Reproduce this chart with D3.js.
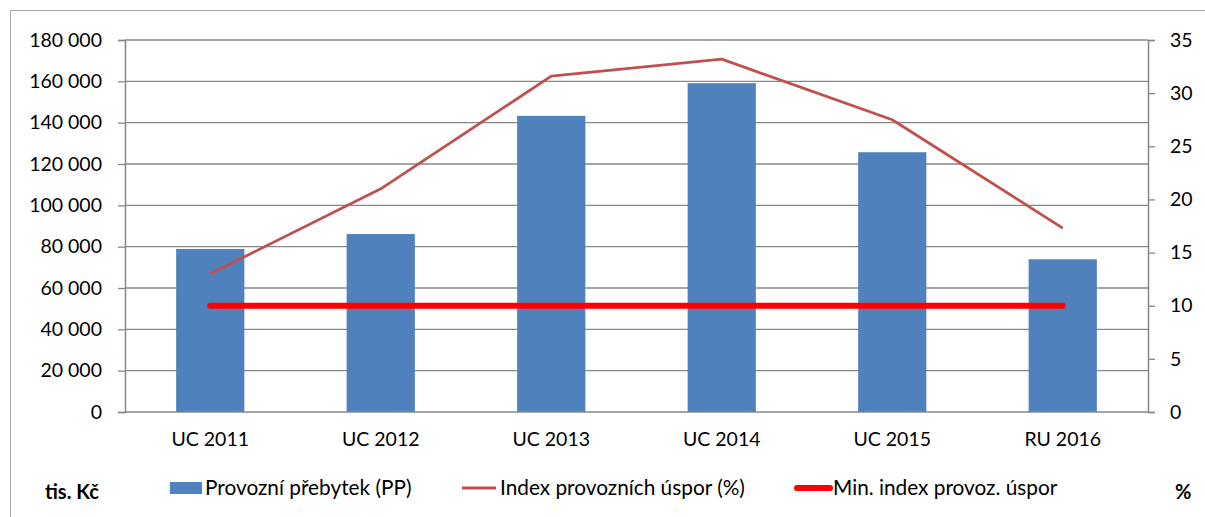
<!DOCTYPE html>
<html>
<head>
<meta charset="utf-8">
<script src="https://cdn.jsdelivr.net/npm/d3@7"></script>
<style>
    body { margin: 0; background: #fff; }
    svg text { font-family: Lato, "Liberation Sans", sans-serif; fill: #000; }
</style>
</head>
<body>
<div id="chart"></div>
<script>
// chart data
const categories = ['UC 2011', 'UC 2012', 'UC 2013', 'UC 2014', 'UC 2015', 'RU 2016'];
const surplus = [78900, 86100, 143300, 159100, 125700, 73900];
const savingsIndex = [13.0, 21.0, 31.6, 33.2, 27.5, 17.3];
const minIndex = [10, 10, 10, 10, 10, 10];
const leftTicks = [0, 20000, 40000, 60000, 80000, 100000, 120000, 140000, 160000, 180000];
const rightTicks = [0, 5, 10, 15, 20, 25, 30, 35];
const legendLabels = ['Provozní přebytek (PP)', 'Index provozních úspor (%)', 'Min. index provoz. úspor'];

document.addEventListener('DOMContentLoaded', function () {
    drawChart();
});

function drawChart() {
    const width = 1205;
    const height = 517;
    const margin = { top: 40, right: 57, bottom: 105, left: 125 };
    const innerW = width - margin.left - margin.right;
    const innerH = height - margin.top - margin.bottom;

    const locale = d3.formatLocale({ decimal: ',', thousands: ' ', grouping: [3], currency: ['', ' Kč'] });
    const fmt = locale.format(',d');

    const svg = d3.select('#chart').append('svg').attr('width', width).attr('height', height);

    // outer frame
    svg.append('rect')
        .attr('x', 10.5).attr('y', 10.5)
        .attr('width', 1200).attr('height', 520)
        .attr('fill', 'none').attr('stroke', '#a6a6a6').attr('stroke-width', 1);

    const g = svg.append('g').attr('transform', `translate(${margin.left},${margin.top})`);

    const x = d3.scaleBand().domain(categories).range([0, innerW]).paddingInner(0.6).paddingOuter(0.3);
    const yLeft = d3.scaleLinear().domain([0, 180000]).range([innerH, 0]);
    const yRight = d3.scaleLinear().domain([0, 35]).range([innerH, 0]);

    // gridlines
    g.append('g')
        .selectAll('line')
        .data(leftTicks.slice(1))
        .enter()
        .append('line')
        .attr('x1', 0).attr('x2', innerW)
        .attr('y1', d => yLeft(d)).attr('y2', d => yLeft(d))
        .attr('stroke', '#888').attr('stroke-width', 1.4);

    // bars
    g.append('g')
        .selectAll('rect')
        .data(surplus)
        .enter()
        .append('rect')
        .attr('x', (d, i) => x(categories[i]))
        .attr('y', d => yLeft(d))
        .attr('width', x.bandwidth())
        .attr('height', d => innerH - yLeft(d))
        .attr('fill', '#4F81BD');

    // index line
    const line = d3.line()
        .x((d, i) => x(categories[i]) + x.bandwidth() / 2)
        .y(d => yRight(d));

    g.append('path')
        .datum(savingsIndex)
        .attr('d', line)
        .attr('fill', 'none')
        .attr('stroke', '#C0504D')
        .attr('stroke-width', 2.8)
        .attr('stroke-linejoin', 'round');

    g.append('path')
        .datum(minIndex)
        .attr('d', line)
        .attr('fill', 'none')
        .attr('stroke', '#FF0000')
        .attr('stroke-width', 6)
        .attr('stroke-linecap', 'round');

    // axes
    const leftAxis = g.append('g')
        .call(d3.axisLeft(yLeft).tickValues(leftTicks).tickFormat(fmt).tickSize(7).tickPadding(16));
    const rightAxis = g.append('g')
        .attr('transform', `translate(${innerW},0)`)
        .call(d3.axisRight(yRight).tickValues(rightTicks).tickSize(7).tickPadding(15));
    const bottomAxis = g.append('g')
        .attr('transform', `translate(0,${innerH})`)
        .call(d3.axisBottom(x).tickSize(0).tickPadding(20));

    [leftAxis, rightAxis, bottomAxis].forEach(a => {
        a.select('.domain').attr('stroke', '#868686').attr('stroke-width', 1.5);
        a.selectAll('.tick line').attr('stroke', '#868686').attr('stroke-width', 1.3);
        a.selectAll('text').attr('font-size', 19.5).attr('font-family', 'Lato, "Liberation Sans", sans-serif');
    });
    bottomAxis.select('.domain').attr('d', `M0,0H${innerW}`);

    // legend
    const legendY = 488;
    const legend = svg.append('g');
    legend.append('rect')
        .attr('x', 170).attr('y', legendY - 6)
        .attr('width', 32).attr('height', 12)
        .attr('fill', '#4F81BD');
    legend.append('line')
        .attr('x1', 462).attr('x2', 496)
        .attr('y1', legendY).attr('y2', legendY)
        .attr('stroke', '#C0504D').attr('stroke-width', 2.8);
    legend.append('line')
        .attr('x1', 797).attr('x2', 830)
        .attr('y1', legendY).attr('y2', legendY)
        .attr('stroke', '#FF0000').attr('stroke-width', 6).attr('stroke-linecap', 'round');

    const legendX = [205, 500, 833];
    legend.selectAll('text.leg')
        .data(legendLabels)
        .enter()
        .append('text')
        .attr('class', 'leg')
        .attr('x', (d, i) => legendX[i])
        .attr('y', legendY)
        .attr('dy', '0.35em')
        .attr('font-size', 20.8)
        .text(d => d);

    // unit labels
    svg.append('text')
        .attr('x', 45).attr('y', 492).attr('dy', '0.35em')
        .attr('font-size', 20).attr('font-weight', 'bold')
        .text('tis. Kč');
    svg.append('text')
        .attr('x', 1175).attr('y', 492).attr('dy', '0.35em')
        .attr('font-size', 20).attr('font-weight', 'bold')
        .text('%');
}
</script>
</body>
</html>
